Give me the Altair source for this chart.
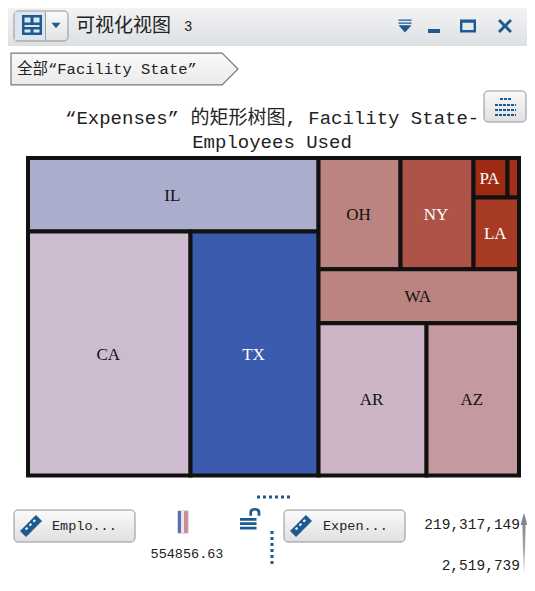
import altair as alt
import pandas as pd

states = ["IL", "CA", "TX", "OH", "NY", "PA", "", "LA", "WA", "AR", "AZ"]
expenses = [118300000, 219317149, 172800000, 50400000, 44900000, 7440000, 2519739, 18000000, 60000000, 91000000, 77900000]
colors = ["#ABADCC", "#CDBBCF", "#3A5BAE", "#BC8480", "#AD5347", "#9E2B13", "#A0301A", "#A63A22", "#BC8480", "#CDB5C8", "#C59A9F"]
label_colors = ["#111111", "#111111", "#FFFFFF", "#111111", "#FFFFFF", "#FFFFFF", "#FFFFFF", "#FFFFFF", "#111111", "#111111", "#111111"]

# treemap hierarchy: "h" splits side by side, "v" stacks
tree = ("h", [("v", ["IL", ("h", ["CA", "TX"])]),
              ("v", [("h", ["OH", "NY", ("v", [("h", ["PA", ""]), "LA"])]), "WA", ("h", ["AR", "AZ"])])])
value_of = dict(zip(states, expenses))

def total(n):
    return value_of[n] if isinstance(n, str) else sum(total(c) for c in n[1])

cells = {}
def layout(n, x0, y0, x1, y1):
    if isinstance(n, str):
        cells[n] = (x0, y0, x1, y1)
        return
    t = total(n)
    pos = 0.0
    for c in n[1]:
        f0, f1 = pos, pos + total(c) / t
        pos = f1
        if n[0] == "h":
            layout(c, x0 + (x1 - x0) * f0, y0, x0 + (x1 - x0) * f1, y1)
        else:
            layout(c, x0, y0 + (y1 - y0) * f0, x1, y0 + (y1 - y0) * f1)
layout(tree, 0, 0, 1, 1)

df = pd.DataFrame({
    "state": states, "expenses": expenses, "fill": colors, "ink": label_colors,
    "x0": [cells[s][0] for s in states], "y0": [cells[s][1] for s in states],
    "x1": [cells[s][2] for s in states], "y1": [cells[s][3] for s in states],
})
df["xm"] = (df.x0 + df.x1) / 2
df["ym"] = (df.y0 + df.y1) / 2

O = 8  # page margin
MONO = "Liberation Mono, Noto Sans CJK SC"
BLUE = "#1D5A92"
one = pd.DataFrame({"a": [0]})

def grad(*stops):
    return alt.LinearGradient(gradient="linear", x1=0, x2=0, y1=0, y2=1,
                              stops=[alt.GradientStop(color=c, offset=o) for o, c in stops])

def box(x0, y0, x1, y1, fill, stroke=None, r=0, sw=1):
    kw = {"cornerRadius": r} if r else {}
    if stroke:
        kw.update(stroke=stroke, strokeWidth=sw)
    return alt.Chart(one).mark_rect(fill=fill, opacity=1, **kw).encode(
        x=alt.value(x0 - O), x2=alt.value(x1 - O), y=alt.value(y0 - O), y2=alt.value(y1 - O))

def label(txt, x, y, size, align="left", color="#222222", font=MONO):
    return alt.Chart(one).mark_text(text=txt, fontSize=size, font=font, align=align, baseline="middle", color=color).encode(
        x=alt.value(x - O), y=alt.value(y - O))

def icon(path, cx, cy, side, fill="#1D5A92", stroke=None, sw=1):
    kw = {"stroke": stroke, "strokeWidth": sw} if stroke else {"strokeWidth": 0}
    return alt.Chart(one).mark_point(shape=path, size=side ** 2, filled=True, fill=fill, opacity=1, **kw).encode(
        x=alt.value(cx - O), y=alt.value(cy - O))

def dotted(x0, y0, x1, y1, dash=(3, 3), width=3):
    return alt.Chart(one).mark_rule(color=BLUE, strokeWidth=width, strokeDash=list(dash)).encode(
        x=alt.value(x0 - O), x2=alt.value(x1 - O), y=alt.value(y0 - O), y2=alt.value(y1 - O))

xs = alt.Scale(domain=[0, 1], range=[20, 511])
ys = alt.Scale(domain=[0, 1], range=[150, 467.5])

rects = alt.Chart(df).mark_rect(stroke="#111111", strokeWidth=4, opacity=1).encode(
    x=alt.X("x0:Q", scale=xs, axis=None), x2="x1:Q",
    y=alt.Y("y0:Q", scale=ys, axis=None), y2="y1:Q",
    fill=alt.Fill("fill:N", scale=None),
    tooltip=["state:N", "expenses:Q"],
)
texts = alt.Chart(df).mark_text(fontSize=17, font="Liberation Serif", align="center", baseline="middle", dx=-1, dy=1).encode(
    x=alt.X("xm:Q", scale=xs, axis=None), y=alt.Y("ym:Q", scale=ys, axis=None),
    text="state:N", color=alt.Color("ink:N", scale=None),
)

ruler = "M-1,0.45 L0.45,-1 L1,-0.45 L-0.45,1 Z"
ruler_ticks = ("M-0.55,0.25 L-0.38,0.08 L-0.25,0.21 L-0.42,0.38 Z "
               "M-0.2,-0.1 L-0.03,-0.27 L0.1,-0.14 L-0.07,0.03 Z "
               "M0.15,-0.45 L0.32,-0.62 L0.45,-0.49 L0.28,-0.32 Z")
pentagon = "M-1,-0.14 L0.86,-0.14 L1,0 L0.86,0.14 L-1,0.14 Z"
grid_icon = "M-1,-1 H1 V1 H-1 Z M-0.75,-0.75 V-0.25 H-0.15 V-0.75 Z M0.15,-0.75 V-0.25 H0.75 V-0.75 Z M-0.75,0 V0.2 H0.75 V0 Z M-0.75,0.45 V0.75 H-0.15 V0.45 Z M0.15,0.45 V0.75 H0.75 V0.45 Z"
tri_down = "M-1,-0.5 H1 L0,0.7 Z"
menu_icon = "M-1,-1 H1 V-0.8 H-1 Z M-1,-0.55 H1 V-0.35 H-1 Z M-1,-0.1 H1 L0,1 Z"
max_icon = "M-1,-0.8 H1 V0.8 H-1 Z M-0.7,-0.4 V0.5 H0.7 V-0.4 Z"
close_icon = "M-0.7,-1 L0,-0.3 L0.7,-1 L1,-0.7 L0.3,0 L1,0.7 L0.7,1 L0,0.3 L-0.7,1 L-1,0.7 L-0.3,0 L-1,-0.7 Z"
lock_icon = "M-1,-0.1 H0.5 V0.15 H-1 Z M-1,0.3 H0.5 V0.55 H-1 Z M-1,0.7 H0.5 V0.95 H-1 Z M-0.15,-0.3 V-0.6 Q-0.15,-1 0.35,-1 Q0.85,-1 0.85,-0.6 V-0.3 H0.6 V-0.6 Q0.6,-0.78 0.35,-0.78 Q0.1,-0.78 0.1,-0.6 V-0.3 Z"
up_arrow = "M-0.05,-0.61 L-0.11,-0.61 L0,-1 L0.11,-0.61 L0.05,-0.61 L0.02,0.9 L-0.02,0.9 Z"

layers = [
    # window frame
    box(7, 4, 536, 600, "#FFFFFF", "#9A9FA8"),
    box(7, 4, 536, 46, grad((0, "#F4F5F6"), (1, "#DDE0E3"))),
    box(7, 3, 536, 5, "#667080"),
    # toolbar button
    box(14, 11, 68, 41, grad((0, "#FAFAFA"), (1, "#E2E2E2")), "#8E9298", r=4),
    box(15, 12, 45, 40, "#DDE6EE"),
    icon(grid_icon, 32, 25, 20),
    box(45, 12, 46, 40, "#9A9EA4"),
    icon(tri_down, 56, 25, 9),
    label("可视化视图", 76, 26, 19, font="Noto Sans CJK SC"),
    label("3", 184, 27, 14),
    icon(menu_icon, 405, 26, 13),
    box(428, 29, 440, 33, BLUE),
    icon(max_icon, 468, 26, 16),
    icon(close_icon, 505, 26, 14),
    # breadcrumb
    icon(pentagon, 124.5, 69, 227, fill=grad((0, "#FAFAFA"), (1, "#EAEAEA")), stroke="#777777", sw=1.2),
    label("全部“Facility State”", 17, 69, 15.5),
    # title
    label("“Expenses” 的矩形树图, Facility State-", 65, 118, 19),
    label("Employees Used", 272, 142, 19, align="center"),
    box(484, 91, 526, 122, grad((0, "#FAFAFA"), (1, "#E0E0E0")), "#8E9298", r=4),
    dotted(500, 99, 511, 99, dash=(3, 1), width=2),
    dotted(495, 105, 516, 105, dash=(3, 1), width=2),
    dotted(495, 110, 516, 110, dash=(3, 1), width=2),
    dotted(495, 115, 516, 115, dash=(3, 1), width=2),
    # treemap
    rects, texts,
    # footer: size legend
    box(14, 510, 135, 542, grad((0, "#FAFAFA"), (1, "#E0E0E0")), "#8E9298", r=4),
    icon(ruler, 31, 526, 22),
    icon(ruler_ticks, 31, 526, 22, fill="#FFFFFF"),
    label("Emplo...", 52, 526, 13.5),
    box(178, 511, 188, 533, "#D08A88", "#B0B4BA"),
    box(178, 511, 181, 533, "#5A6FB8"),
    box(181, 511, 184, 533, "#ECE6EC"),
    label("554856.63", 187, 554, 13.5, align="center"),
    # footer: colour legend
    icon(lock_icon, 251, 519, 22),
    dotted(257, 497, 290, 497),
    dotted(272, 531, 272, 564),
    box(284, 510, 405, 542, grad((0, "#FAFAFA"), (1, "#E0E0E0")), "#8E9298", r=4),
    icon(ruler, 301, 526, 22),
    icon(ruler_ticks, 301, 526, 22, fill="#FFFFFF"),
    label("Expen...", 323, 526, 13.5),
    label("219,317,149", 520, 525, 14.5, align="right"),
    label("2,519,739", 520, 566, 14.5, align="right"),
    icon(up_arrow, 524, 544, 62, fill=grad((0, "#777C86"), (0.6, "#A0A4AC"), (1, "#F0F0F2"))),
]

chart = alt.layer(*layers).properties(
    width=519, height=575, padding=0, autosize="none",
).configure_view(stroke=None)

chart.save("out.html", embed_options={"renderer": "svg", "actions": False})
